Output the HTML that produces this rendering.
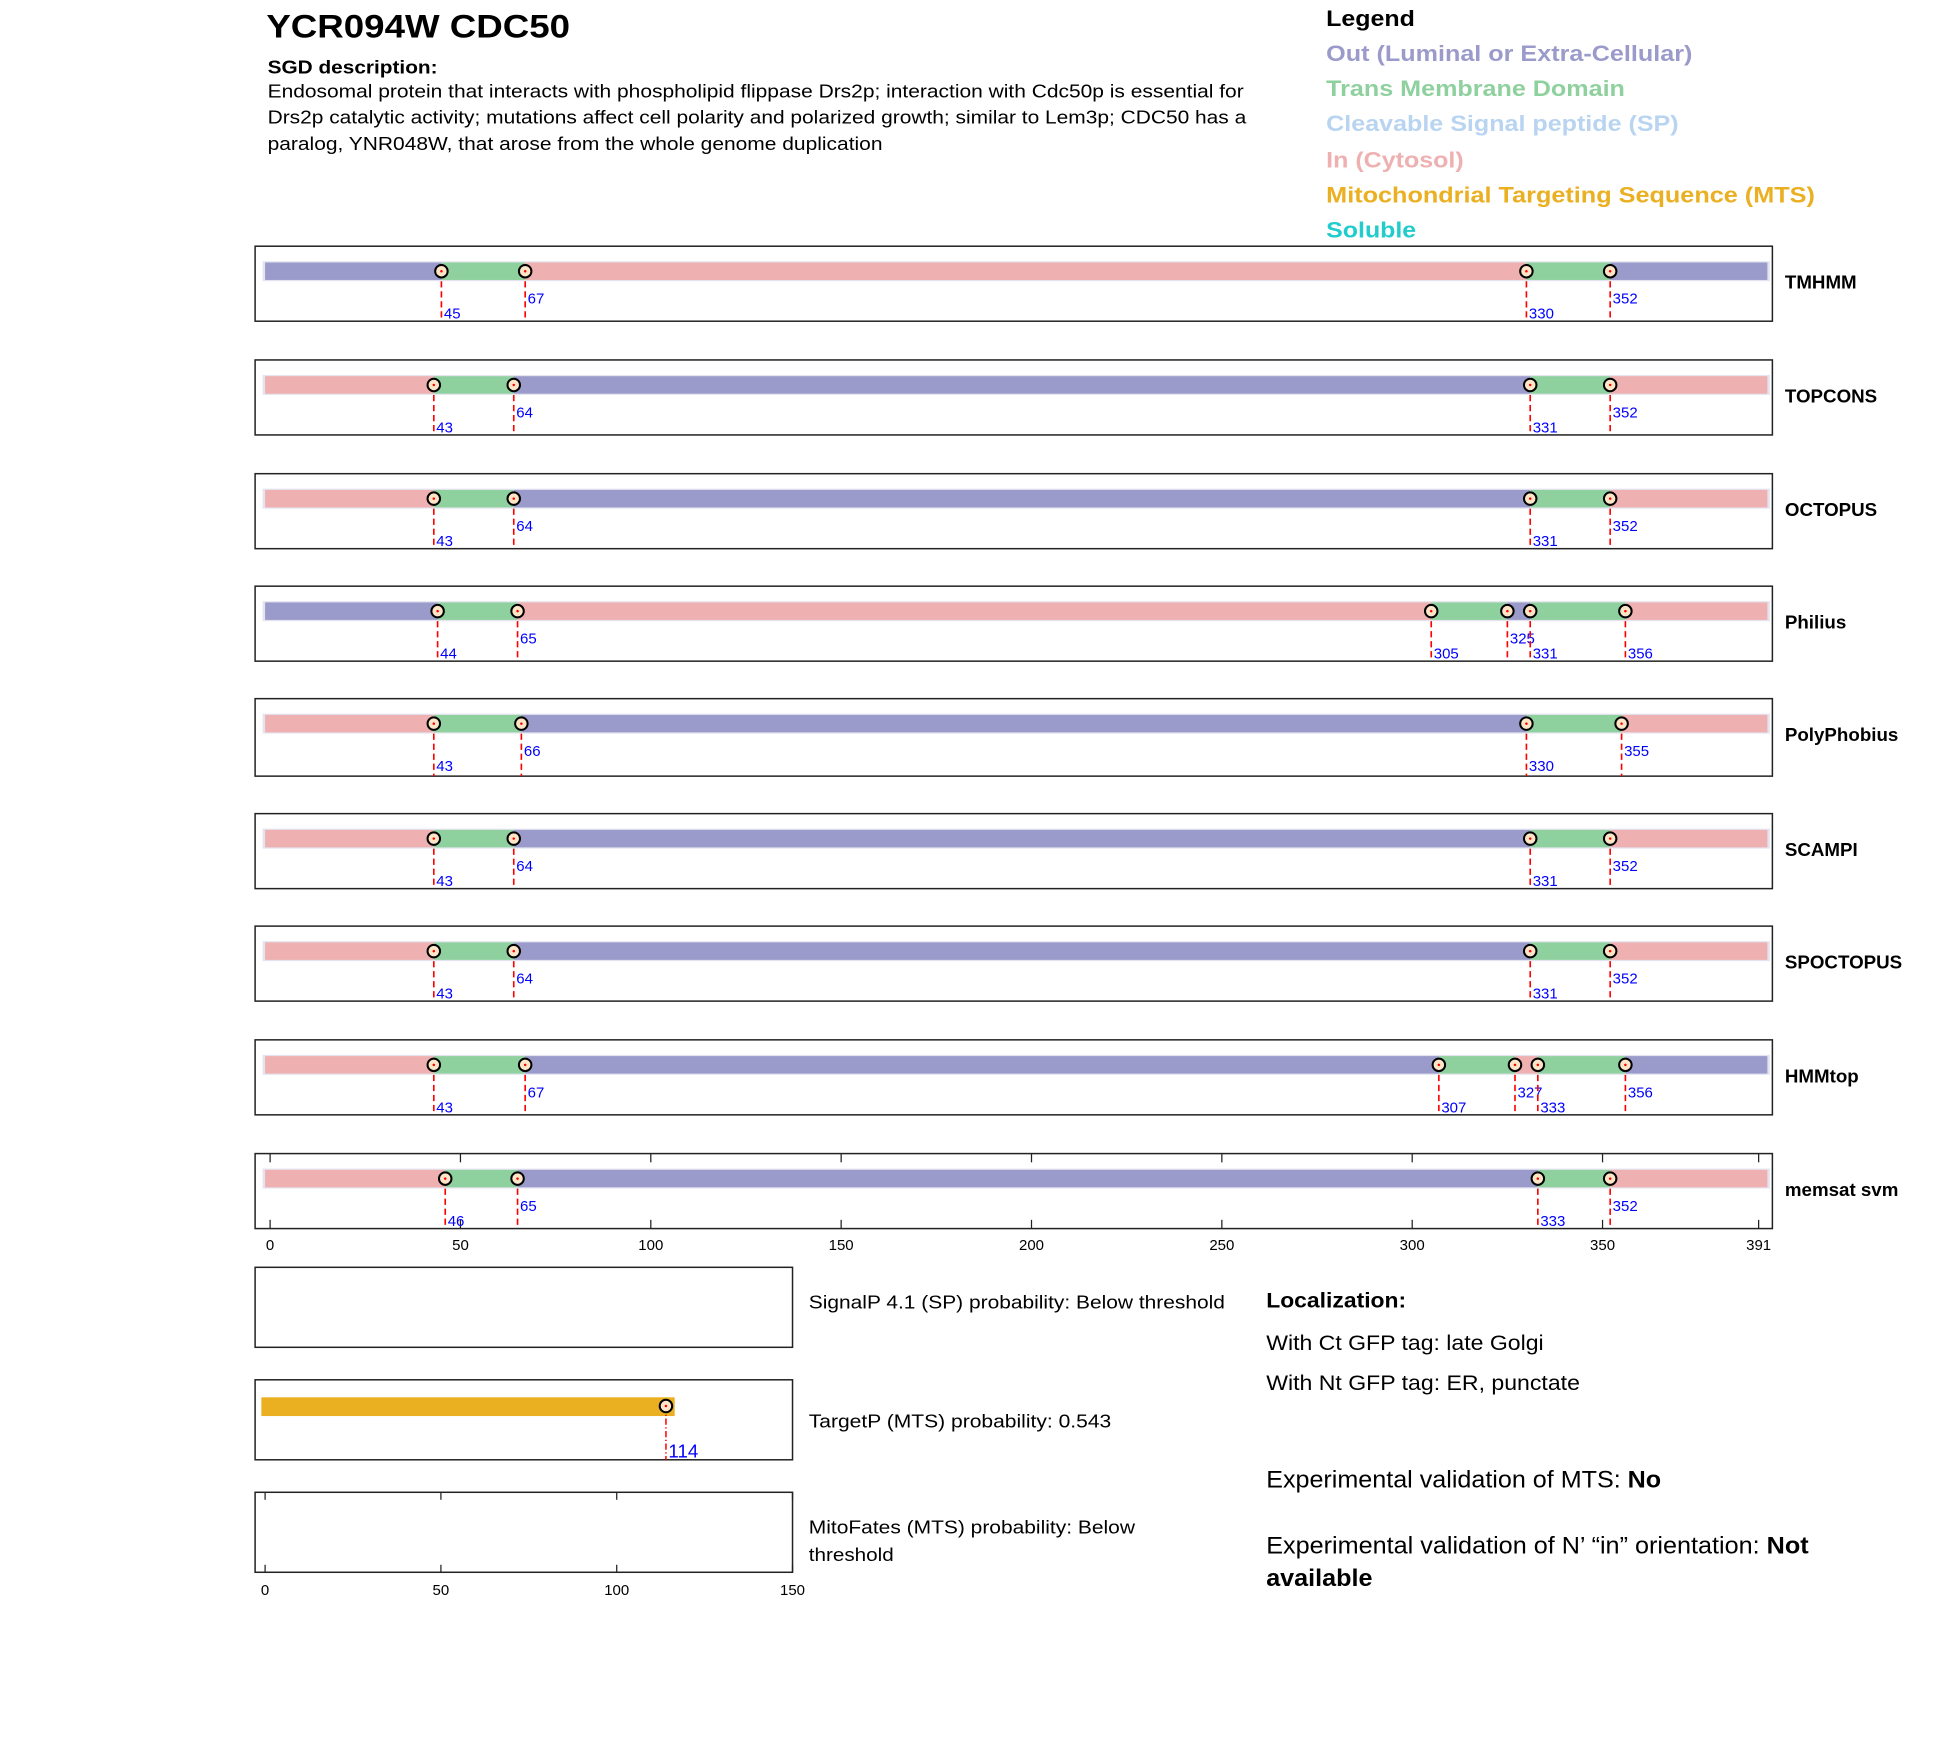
<!DOCTYPE html>
<html><head><meta charset="utf-8"><style>
html,body{margin:0;padding:0;background:#fff;}
svg{display:block;font-family:"Liberation Sans",Arial,sans-serif;}
</style></head><body>
<svg id="fig" width="1950" height="1761" viewBox="0 0 1560 1409">
<rect width="1560" height="1409" fill="#fff"/>
<text x="213" y="30" font-size="26" font-weight="bold" textLength="243" lengthAdjust="spacingAndGlyphs">YCR094W  CDC50</text>
<text x="214" y="59" font-size="15" font-weight="bold" textLength="136" lengthAdjust="spacingAndGlyphs">SGD description:</text>
<g font-size="15">
<text x="214" y="78" textLength="781" lengthAdjust="spacingAndGlyphs">Endosomal protein that interacts with phospholipid flippase Drs2p; interaction with Cdc50p is essential for</text>
<text x="214" y="99" textLength="783" lengthAdjust="spacingAndGlyphs">Drs2p catalytic activity; mutations affect cell polarity and polarized growth; similar to Lem3p; CDC50 has a</text>
<text x="214" y="120" textLength="492" lengthAdjust="spacingAndGlyphs">paralog, YNR048W, that arose from the whole genome duplication</text>
</g>
<g font-size="18" font-weight="bold">
<text x="1061" y="21" fill="#000" textLength="71" lengthAdjust="spacingAndGlyphs">Legend</text>
<text x="1061" y="49" fill="#9b9bcb" textLength="293" lengthAdjust="spacingAndGlyphs">Out (Luminal or Extra-Cellular)</text>
<text x="1061" y="77" fill="#8fd19e" textLength="239" lengthAdjust="spacingAndGlyphs">Trans Membrane Domain</text>
<text x="1061" y="105" fill="#b8d4f0" textLength="282" lengthAdjust="spacingAndGlyphs">Cleavable Signal peptide (SP)</text>
<text x="1061" y="134" fill="#eeb0b0" textLength="110" lengthAdjust="spacingAndGlyphs">In (Cytosol)</text>
<text x="1061" y="162" fill="#ebb022" textLength="391" lengthAdjust="spacingAndGlyphs">Mitochondrial Targeting Sequence (MTS)</text>
<text x="1061" y="190" fill="#22cccc" textLength="72" lengthAdjust="spacingAndGlyphs">Soluble</text>
</g>
<g id="tracks"></g>
<g id="lower"></g>
<g font-size="15">
<text x="647" y="1047" textLength="333" lengthAdjust="spacingAndGlyphs">SignalP 4.1 (SP) probability: Below threshold</text>
<text x="647" y="1142" textLength="242" lengthAdjust="spacingAndGlyphs">TargetP (MTS) probability: 0.543</text>
<text x="647" y="1227" textLength="261" lengthAdjust="spacingAndGlyphs">MitoFates (MTS) probability: Below</text>
<text x="647" y="1249" textLength="68" lengthAdjust="spacingAndGlyphs">threshold</text>
</g>
<g>
<text x="1013" y="1046" font-size="17" font-weight="bold" textLength="112" lengthAdjust="spacingAndGlyphs">Localization:</text>
<text x="1013" y="1080" font-size="17" textLength="222" lengthAdjust="spacingAndGlyphs">With Ct GFP tag: late Golgi</text>
<text x="1013" y="1112" font-size="17" textLength="251" lengthAdjust="spacingAndGlyphs">With Nt GFP tag: ER, punctate</text>
<text x="1013" y="1190" font-size="19" textLength="316" lengthAdjust="spacingAndGlyphs">Experimental validation of MTS: <tspan font-weight="bold">No</tspan></text>
<text x="1013" y="1243" font-size="19" textLength="434" lengthAdjust="spacingAndGlyphs">Experimental validation of N’ “in” orientation: <tspan font-weight="bold">Not</tspan></text>
<text x="1013" y="1269" font-size="19" font-weight="bold" textLength="85" lengthAdjust="spacingAndGlyphs">available</text>
</g>
</svg>
<script>
const NS='http://www.w3.org/2000/svg';
const toolNames=['TMHMM','TOPCONS','OCTOPUS','Philius','PolyPhobius','SCAMPI','SPOCTOPUS','HMMtop','memsat svm'];
const toolBoundaries=[[45,67,330,352],[43,64,331,352],[43,64,331,352],[44,65,305,325,331,356],[43,66,330,355],[43,64,331,352],[43,64,331,352],[43,67,307,327,333,356],[46,65,333,352]];
const toolSegTypes=[['out','tm','in','tm','out'],['in','tm','out','tm','in'],['in','tm','out','tm','in'],['out','tm','in','tm','out','tm','in'],['in','tm','out','tm','in'],['in','tm','out','tm','in'],['in','tm','out','tm','in'],['in','tm','out','tm','in','tm','out'],['in','tm','out','tm','in']];
const labelLevels=[[0,1,0,1],[0,1,0,1],[0,1,0,1],[0,1,0,1,0,0],[0,1,0,1,0],[0,1,0,1],[0,1,0,1],[0,1,0,1,0,1],[0,1,0,1]];
const boxTops=[197,288,379,469,559,651,741,832,923];
const seqLength=391;
const axisTicks=[0,50,100,150,200,250,300,350,391];
const mtsEnd=[114];
const lowerTicks=[0,50,100,150];
const colors={out:'#9b9bcb',tm:'#8fd19e',in:'#eeb0b0',sp:'#b8d4f0',mts:'#ebb022'};
const xs=v=>216+v*(1191/seqLength);
const xl=v=>212+v*(422/150);
function mk(tag,attrs,parent){const e=document.createElementNS(NS,tag);for(const k in attrs)e.setAttribute(k,attrs[k]);parent.appendChild(e);return e;}
const T=document.getElementById('tracks');
toolNames.forEach((name,i)=>{
  const top=boxTops[i];const h=(i===4)?62:60;
  const g=mk('g',{},T);
  
  
  const box=mk('rect',{x:204,y:top,width:1214,height:h,fill:'#fff',stroke:'#222','stroke-width':1.2},g);
  
  
  if(i===toolNames.length-1){
    axisTicks.forEach(t=>{
      mk('line',{x1:xs(t),x2:xs(t),y1:top,y2:top+7,stroke:'#222'},g);
      mk('line',{x1:xs(t),x2:xs(t),y1:top+h-7,y2:top+h,stroke:'#222'},g);
      const tl=mk('text',{x:xs(t),y:top+h+17,'font-size':12,'text-anchor':'middle'},g);
      tl.textContent=t;
      
      
    });
  }
  const b=toolBoundaries[i];const pts=[0,...b,seqLength];
  mk('rect',{x:210,y:top+12,width:1206,height:16,fill:'#e4e4f0'},g);
  toolSegTypes[i].forEach((t,j)=>{
    const x0=j===0?212:xs(pts[j]);const x1=j===toolSegTypes[i].length-1?1414:xs(pts[j+1]);
    const r=mk('rect',{x:x0,y:top+13,width:x1-x0,height:14,fill:colors[t]},g);
    
    
  });
  b.forEach((v,j)=>{
    const x=xs(v);
    mk('line',{x1:x,x2:x,y1:top+20,y2:top+h,stroke:'#f00','stroke-width':1.3,'stroke-dasharray':'5,3'},g);
    const c=mk('circle',{cx:x,cy:top+20,r:5,fill:'#fde6c8',stroke:'#000','stroke-width':1.6},g);
    
    
    mk('circle',{cx:x,cy:top+20,r:1,fill:'#f00'},g);
    const lb=mk('text',{x:x+2,y:labelLevels[i][j]?top+46:top+58,'font-size':12,fill:'#00f'},g);
    lb.textContent=v;
    
    
  });
  const nl=mk('text',{x:1428,y:top+34,'font-size':15,'font-weight':'bold'},g);
  nl.textContent=name;
  
  
});
const L=document.getElementById('lower');
const lowerTops=[1014,1104,1194];const lowerNames=['signalp-box','targetp-box','mitofates-box'];
lowerTops.forEach((top,i)=>{
  const r=mk('rect',{x:204,y:top,width:430,height:64,fill:'#fff',stroke:'#222','stroke-width':1.2},L);
  
  
});
const mt=1194;
lowerTicks.forEach(t=>{
  mk('line',{x1:xl(t),x2:xl(t),y1:mt,y2:mt+6,stroke:'#222'},L);
  mk('line',{x1:xl(t),x2:xl(t),y1:mt+58,y2:mt+64,stroke:'#222'},L);
  const tl=mk('text',{x:xl(t),y:mt+82,'font-size':12,'text-anchor':'middle'},L);
  tl.textContent=t;
  
  
});
const tt=1104;const mx=xl(mtsEnd[0]);
const mb=mk('rect',{x:209,y:tt+14,width:mx+7-209,height:15,fill:colors.mts},L);


mk('line',{x1:mx,x2:mx,y1:tt+21,y2:tt+64,stroke:'#f00','stroke-width':1.2,'stroke-dasharray':'5,2,1,2'},L);
const mc=mk('circle',{cx:mx,cy:tt+21,r:5,fill:'#fde6c8',stroke:'#000','stroke-width':1.6},L);


mk('circle',{cx:mx,cy:tt+21,r:1,fill:'#f00'},L);
const ml=mk('text',{x:mx+2,y:tt+62,'font-size':15,fill:'#00f'},L);
ml.textContent=mtsEnd[0];


</script>
</body></html>
